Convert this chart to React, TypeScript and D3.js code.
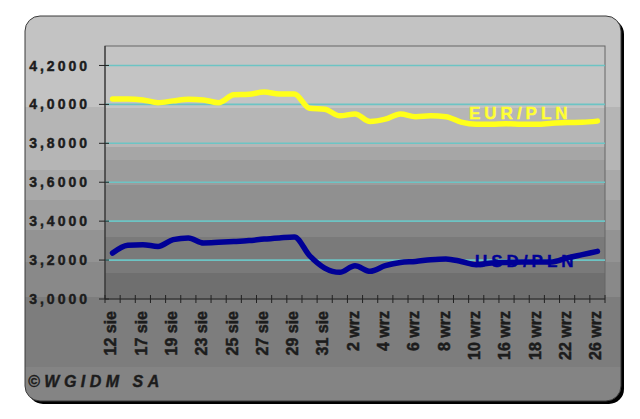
import React from "react";
import * as d3 from "d3";

const categories = [
  "12 sie", "16 sie", "17 sie", "18 sie", "19 sie", "22 sie", "23 sie", "24 sie",
  "25 sie", "26 sie", "27 sie", "28 sie", "29 sie", "30 sie", "31 sie", "1 wrz",
  "2 wrz", "3 wrz", "4 wrz", "5 wrz", "6 wrz", "7 wrz", "8 wrz", "9 wrz",
  "10 wrz", "13 wrz", "16 wrz", "17 wrz", "18 wrz", "19 wrz", "22 wrz", "23 wrz", "26 wrz",
];
const shownLabels = [
  "12 sie", "17 sie", "19 sie", "23 sie", "25 sie", "27 sie", "29 sie", "31 sie",
  "2 wrz", "4 wrz", "6 wrz", "8 wrz", "10 wrz", "16 wrz", "18 wrz", "22 wrz", "26 wrz",
];
const eurPln = [
  4.028, 4.028, 4.023, 4.009, 4.018, 4.027, 4.023, 4.009, 4.049, 4.052, 4.063,
  4.054, 4.054, 3.98, 3.975, 3.941, 3.951, 3.912, 3.924, 3.951, 3.937, 3.941,
  3.937, 3.909, 3.898, 3.898, 3.9, 3.898, 3.898, 3.903, 3.907, 3.908, 3.914,
];
const usdPln = [
  3.236, 3.276, 3.279, 3.27, 3.305, 3.314, 3.288, 3.291, 3.295, 3.3, 3.308,
  3.314, 3.319, 3.223, 3.159, 3.137, 3.171, 3.142, 3.171, 3.188, 3.193, 3.202,
  3.206, 3.193, 3.176, 3.185, 3.188, 3.19, 3.19, 3.19, 3.211, 3.228, 3.245,
];
const yTicks = [3.0, 3.2, 3.4, 3.6, 3.8, 4.0, 4.2];
const seriesNames = ["EUR/PLN", "USD/PLN"];

const W = 640;
const H = 419;
const plot = { left: 105, right: 605, top: 46, bottom: 299 };
const panel = { x: 25, y: 16, w: 596, h: 385, r: 15 };

const outerBands: [number, number, string][] = [
  [16, 107, "#c3c3c3"],
  [107, 170, "#b5b5b5"],
  [170, 200, "#a9a9a9"],
  [200, 230, "#9e9e9e"],
  [230, 262, "#939393"],
  [262, 297, "#898989"],
  [297, 367, "#7d7d7d"],
  [367, 401, "#848484"],
];
const plotBands: [number, number, string][] = [
  [46, 108, "#c4c4c4"],
  [108, 147, "#b6b6b6"],
  [147, 160, "#a6a6a6"],
  [160, 185, "#9c9c9c"],
  [185, 221, "#909090"],
  [221, 237, "#868686"],
  [237, 273, "#7a7a7a"],
  [273, 299, "#6f6f6f"],
];

function BandGradient({ id, bands }: { id: string; bands: [number, number, string][] }) {
  const y0 = bands[0][0];
  const y1 = bands[bands.length - 1][1];
  const off = (v: number) => ((v - y0) / (y1 - y0)) * 100 + "%";
  return (
    <linearGradient id={id} gradientUnits="userSpaceOnUse" x1={0} x2={0} y1={y0} y2={y1}>
      {bands.flatMap(([a, b, c], i) => [
        <stop key={i + "a"} offset={off(a)} stopColor={c} />,
        <stop key={i + "b"} offset={off(b)} stopColor={c} />,
      ])}
    </linearGradient>
  );
}

export default function App() {
  const x = d3.scaleBand<string>().domain(categories).range([plot.left, plot.right]);
  const y = d3.scaleLinear().domain([3.0, 4.3]).range([plot.bottom, plot.top]);
  const cx = (c: string) => (x(c) ?? 0) + x.bandwidth() / 2;
  const line = d3
    .line<number>()
    .x((_, i) => cx(categories[i]))
    .y((d) => y(d))
    .curve(d3.curveMonotoneX);
  const fmt = (v: number) => v.toFixed(4).replace(".", ",");
  const font = "'Liberation Sans', Arial, sans-serif";
  const ink = "#1c1c1c";

  return (
    <svg
      width={W}
      height={H}
      style={{ position: "absolute", left: 0, top: 0, background: "#ffffff" }}
      fontFamily={font}
    >
      <defs>
        <BandGradient id="outerG" bands={outerBands} />
        <BandGradient id="plotG" bands={plotBands} />
      </defs>
      {/* shadow */}
      <rect x={panel.x + 3} y={panel.y + 3} width={panel.w} height={panel.h} rx={panel.r} fill="#000" />
      <rect
        x={panel.x}
        y={panel.y}
        width={panel.w}
        height={panel.h}
        rx={panel.r}
        fill="url(#outerG)"
        stroke="#3a3a3a"
        strokeWidth={1}
      />
      {/* plot area */}
      <rect
        x={plot.left}
        y={plot.top}
        width={plot.right - plot.left}
        height={plot.bottom - plot.top}
        fill="url(#plotG)"
        stroke="#666"
        strokeWidth={1}
      />
      {/* gridlines */}
      {yTicks
        .filter((t) => t > 3.0)
        .map((t) => (
          <line
            key={t}
            x1={plot.left}
            x2={plot.right}
            y1={y(t)}
            y2={y(t)}
            stroke="#6cc4c4"
            strokeWidth={1.6}
          />
        ))}
      {/* axes */}
      <line x1={plot.left} x2={plot.left} y1={plot.top} y2={plot.bottom} stroke="#222" strokeWidth={1} />
      <line x1={plot.left} x2={plot.right} y1={plot.bottom} y2={plot.bottom} stroke="#222" strokeWidth={1} />
      {yTicks.map((t) => (
        <g key={t}>
          <line x1={plot.left - 6} x2={plot.left + 4} y1={y(t)} y2={y(t)} stroke="#222" strokeWidth={1} />
          <text
            x={90}
            y={y(t)}
            dy="0.36em"
            textAnchor="end"
            fontSize={14}
            fontWeight="bold"
            letterSpacing={3}
            fill={ink}
            stroke={ink}
            strokeWidth={0.45}
          >
            {fmt(t)}
          </text>
        </g>
      ))}
      {categories.map((c) => (
        <line
          key={c}
          x1={x(c) ?? 0}
          x2={x(c) ?? 0}
          y1={plot.bottom - 4}
          y2={plot.bottom + 4}
          stroke="#222"
          strokeWidth={1}
        />
      ))}
      <line x1={plot.right} x2={plot.right} y1={plot.bottom - 4} y2={plot.bottom + 4} stroke="#222" />
      {shownLabels.map((c) => (
        <text
          key={c}
          transform={`translate(${cx(c) - 2},${plot.bottom + 12}) rotate(-90)`}
          dy="0.36em"
          textAnchor="end"
          fontSize={16}
          fontWeight="bold"
          fill={ink}
          stroke={ink}
          strokeWidth={0.5}
        >
          {c}
        </text>
      ))}
      {/* series */}
      <path
        d={line(eurPln) ?? ""}
        fill="none"
        stroke="#ffff1a"
        strokeWidth={5.5}
        strokeLinejoin="round"
        strokeLinecap="round"
      />
      <path
        d={line(usdPln) ?? ""}
        fill="none"
        stroke="#000096"
        strokeWidth={5.5}
        strokeLinejoin="round"
        strokeLinecap="round"
      />
      <text
        x={469}
        y={119}
        fontSize={17}
        fontWeight="bold"
        letterSpacing={4}
        fill="#ffff33"
        stroke="#ffff33"
        strokeWidth={0.4}
      >
        {seriesNames[0]}
      </text>
      <text
        x={475}
        y={267}
        fontSize={17}
        fontWeight="bold"
        letterSpacing={4}
        fill="#000096"
        stroke="#000096"
        strokeWidth={0.4}
      >
        {seriesNames[1]}
      </text>
      <text
        x={28}
        y={387}
        fontSize={16}
        fontWeight="bold"
        fontStyle="italic"
        letterSpacing={4.5}
        fill={ink}
        stroke={ink}
        strokeWidth={0.4}
      >
        ©WGIDM SA
      </text>
    </svg>
  );
}
